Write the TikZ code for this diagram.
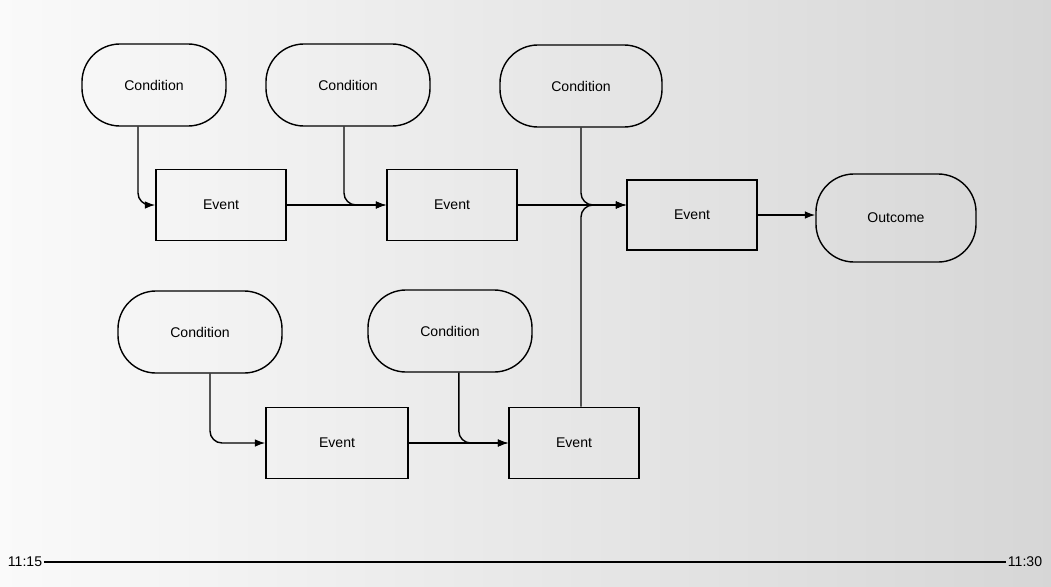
\documentclass[tikz,border=0pt]{standalone}
\usepackage{fontspec}
\setmainfont{Liberation Sans}
\usepackage{tikz}
\usetikzlibrary{arrows.meta,positioning,calc}

\tikzset{
  cond/.style={draw,line width=1pt,rounded corners=0.95cm,minimum height=2.05cm,inner sep=2pt},
  evt/.style={draw,line width=1pt,minimum width=3.25cm,minimum height=1.78cm},
  link/.style={line width=1pt,rounded corners=0.3cm}
}

\begin{document}
\begin{tikzpicture}[>={Latex[length=2.6mm,width=1.9mm]},x=0.025cm,y=-0.025cm]
  % fondo
  \shade[left color=gray!4,right color=gray!32] (0,0) rectangle (1051,586);
  \useasboundingbox (0,0) rectangle (1051,586);
  % condizioni
  \node[cond,minimum width=3.6cm] (c1) at (154,85) {Condition};
  \node[cond,minimum width=4.1cm] (c2) at (348,85) {Condition};
  \node[cond,minimum width=4.05cm] (c3) at (581,86) {Condition};
  \node[cond,minimum width=4.1cm] (c4) at (200,332) {Condition};
  \node[cond,minimum width=4.1cm] (c5) at (450,331) {Condition};
  % eventi
  \node[evt] (e1) at (221,205) {Event};
  \node[evt] (e2) at (452,205) {Event};
  \node[evt,minimum height=1.75cm] (e3) at (692,215) {Event};
  \node[evt,minimum width=3.55cm] (e4) at (337,443) {Event};
  \node[evt] (e5) at (574,443) {Event};
  \node[cond,minimum width=4cm,minimum height=2.2cm] (out) at (896,218) {Outcome};
  % collegamenti
  \draw[link,->] ([xshift=-0.4cm]c1.south) |- (e1.west);
  \draw[link,->] (e1.east) -- (e2.west);
  \draw[link,->] ([xshift=-0.1cm]c2.south) |- (e2.west);
  \draw[link,->] (e2.east) -- (e2.east -| e3.west);
  \draw[link,->] (c3.south) |- (e2.east -| e3.west);
  \draw[link,->] (e5.north -| c3.south) |- (e2.east -| e3.west);
  \draw[link,->] (e3.east) -- (e3.east -| out.west);
  \draw[link,->] ([xshift=0.25cm]c4.south) |- (e4.west);
  \draw[link,->] (e4.east) -- (e5.west);
  \draw[link,->] ([xshift=0.22cm]c5.south) |- (e5.west);
  % asse dei tempi
  \node[inner sep=1pt] (t0) at (25,562) {11:15};
  \node[inner sep=1pt] (t1) at (1025,562) {11:30};
  \draw[line width=0.8pt] (t0) -- (t1);
\end{tikzpicture}
\end{document}
